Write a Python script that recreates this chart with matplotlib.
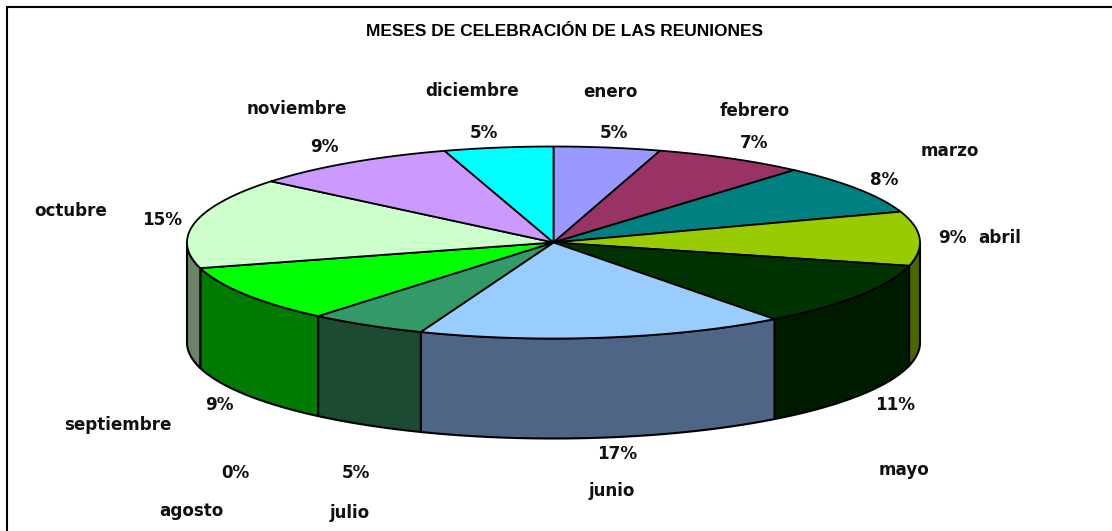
import numpy as np
import matplotlib
matplotlib.use("Agg")
import matplotlib.pyplot as plt
from matplotlib.patches import Polygon

months = ["enero", "febrero", "marzo", "abril", "mayo", "junio", "julio",
          "agosto", "septiembre", "octubre", "noviembre", "diciembre"]
shares = [4.7, 6.7, 8.4, 9.1, 10.8, 16.2, 5.2, 0.0, 9.6, 15.3, 9.2, 4.8]
shown = [5, 7, 8, 9, 11, 17, 5, 0, 9, 15, 9, 5]
top_colors = ["#9999FF", "#993366", "#008080", "#99CC00", "#003300", "#99CCFF",
              "#339966", "#FF6600", "#00FF00", "#CCFFCC", "#CC99FF", "#00FFFF"]
side_colors = ["#6B6BB3", "#6B2447", "#005A5A", "#4D6600", "#001A00", "#4F6585",
               "#1C4A33", "#B34700", "#007A00", "#6B8469", "#8F6BB3", "#00B3B3"]
name_pos = [(610, 92), (755, 111), (950, 151), (1000, 238), (904, 470), (612, 491),
            (350, 513), (191, 511), (118, 425), (71, 211), (297, 109), (472, 91)]
pct_pos = [(614, 133), (754, 143), (884, 180), (952, 238), (895, 405), (617, 454),
           (356, 473), (235, 473), (219, 405), (162, 220), (324, 147), (484, 133)]
title = "MESES DE CELEBRACIÓN DE LAS REUNIONES"

W, H = 1112, 531
CX, CY, RX, RY, DEPTH = 553.5, 242.5, 366.5, 96, 100

plt.rcParams["font.family"] = ["Liberation Sans", "DejaVu Sans"]
fig = plt.figure(figsize=(W / 100, H / 100), dpi=100)
ax = fig.add_axes([0, 0, 1, 1])
ax.set_xlim(0, W)
ax.set_ylim(H, 0)
ax.axis("off")

# Only the top and left edges of the chart frame fall inside the picture
ax.plot([6.5, 6.5, W], [H, 6.5, 6.5], color="black", lw=1.5, solid_joinstyle="miter")


def rim(a0, a1):
    t = np.radians(np.linspace(a0, a1, max(int(abs(a1 - a0) * 2), 2)))
    return CX + RX * np.sin(t), CY - RY * np.cos(t)


edges = np.concatenate([[0], np.cumsum(shares)]) / np.sum(shares) * 360
for i in range(len(shares)):
    a0, a1 = edges[i], edges[i + 1]
    if a1 - a0 <= 0:
        continue
    lo, hi = max(a0, 90), min(a1, 270)
    if hi > lo:
        x, y = rim(lo, hi)
        pts = np.r_[np.c_[x, y], np.c_[x[::-1], y[::-1] + DEPTH]]
        ax.add_patch(Polygon(pts, closed=True, fc=side_colors[i], ec="black", lw=1.5, joinstyle="round"))
for i in range(len(shares)):
    a0, a1 = edges[i], edges[i + 1]
    if a1 - a0 <= 0:
        continue
    x, y = rim(a0, a1)
    pts = np.r_[[[CX, CY]], np.c_[x, y]]
    ax.add_patch(Polygon(pts, closed=True, fc=top_colors[i], ec="black", lw=1.3, joinstyle="round"))

fs = 12.1
ax.text(565, 32, title, ha="center", va="center", fontsize=12.5, fontweight="bold",
        family=["Liberation Sans"])
for m, v, p, q in zip(months, shown, name_pos, pct_pos):
    ax.text(p[0], p[1], m, ha="center", va="center", fontsize=fs, fontweight="bold",
            family=["DejaVu Sans"], color="#111111")
    ax.text(q[0], q[1], f"{v}%", ha="center", va="center", fontsize=fs, fontweight="bold",
            family=["DejaVu Sans"], color="#111111")

fig.savefig("out.png", dpi=100)
